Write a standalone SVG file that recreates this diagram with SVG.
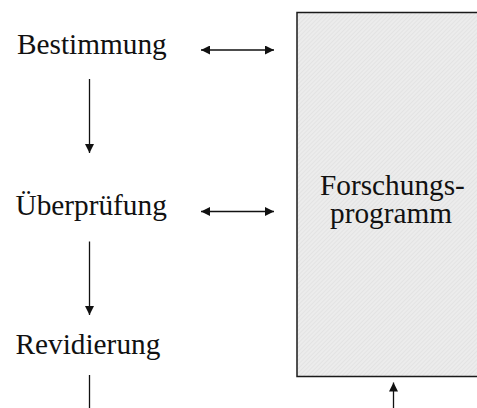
<svg xmlns="http://www.w3.org/2000/svg" width="477" height="408" viewBox="0 0 477 408">
  <style>
    text { font-family: "Liberation Serif", "Times New Roman", serif; font-size: 29.3px; fill: #111; }
    .conn { stroke: #111; stroke-width: 1.3; fill: none; }
  </style>
  <defs>
    <marker id="head" viewBox="0 0 10 10" refX="10" refY="5" markerWidth="10" markerHeight="9" markerUnits="userSpaceOnUse" orient="auto-start-reverse">
      <path d="M0,0 L10,5 L0,10 Z" fill="#111"/>
    </marker>
    <pattern id="grain" width="3" height="3" patternUnits="userSpaceOnUse" patternTransform="rotate(45)">
      <rect width="3" height="3" fill="#ececec"/>
      <rect width="1" height="3" fill="#e3e3e3"/>
    </pattern>
  </defs>

  <!-- research programme block, open towards the right edge -->
  <g id="forschungsprogramm">
    <rect x="297" y="12.5" width="300" height="364" fill="url(#grain)"/>
    <path d="M490,12.5 H297 V376.5 H490" fill="none" stroke="#1a1a1a" stroke-width="1.5"/>
    <text x="320" y="195" font-size="30">Forschungs-</text>
    <text x="330" y="223" font-size="30">programm</text>
  </g>

  <g id="bestimmung">
    <text x="17" y="53.5">Bestimmung</text>
  </g>
  <g id="ueberpruefung">
    <text x="15.5" y="214.5">Überprüfung</text>
  </g>
  <g id="revidierung">
    <text x="15.5" y="353.5">Revidierung</text>
  </g>

  <g id="connectors">
    <line class="conn" x1="201" y1="50" x2="274" y2="50" marker-start="url(#head)" marker-end="url(#head)"/>
    <line class="conn" x1="201" y1="211.5" x2="274" y2="211.5" marker-start="url(#head)" marker-end="url(#head)"/>
    <line class="conn" x1="89.5" y1="79" x2="89.5" y2="153" marker-end="url(#head)"/>
    <line class="conn" x1="89.5" y1="241.5" x2="89.5" y2="315" marker-end="url(#head)"/>
    <line class="conn" x1="89.5" y1="375" x2="89.5" y2="408"/>
    <line class="conn" x1="393.5" y1="408" x2="393.5" y2="382.5" marker-end="url(#head)"/>
  </g>
</svg>
